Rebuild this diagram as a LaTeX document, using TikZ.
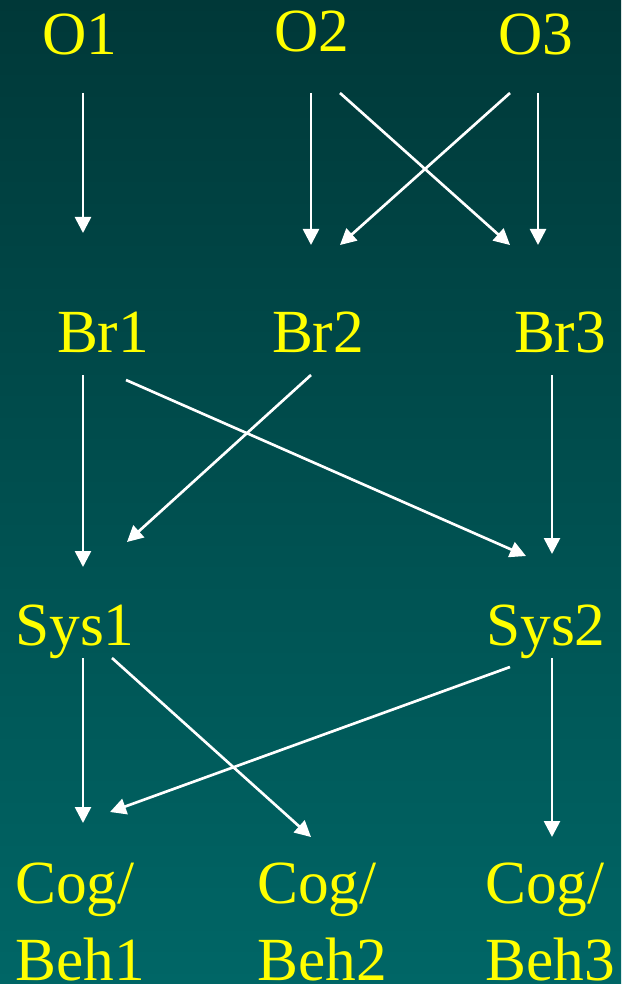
\documentclass[tikz,border=0pt]{standalone}
\usepackage{fontspec}
\setmainfont{Liberation Serif}
\usepackage{xcolor}
\usetikzlibrary{arrows.meta,calc}

\definecolor{bgtop}{RGB}{0,56,56}
\definecolor{bgbot}{RGB}{0,102,102}
\definecolor{lblyellow}{RGB}{255,255,0}

\begin{document}
\begin{tikzpicture}[x=0.75pt,y=0.75pt,yscale=-1,xscale=1,
  lbl/.style={text=lblyellow,inner sep=0pt,anchor=base,font=\fontsize{46}{57.75}\selectfont},
  twolbl/.style={lbl,anchor=base west,align=left},
  arr/.style={draw=white,line width=2pt,-{Triangle[length=12pt,width=12pt]}}]
%set diagram to 621 x 984
\useasboundingbox (0,0) rectangle (621,984);
\shade[top color=bgtop,bottom color=bgbot] (0,0) rectangle (621,984);

% Text Node
\node[lbl] (O1) at (80,55) {O1};
% Text Node
\node[lbl] (O2) at (312,52) {O2};
% Text Node
\node[lbl] (O3) at (536,55) {O3};
% Text Node
\node[lbl] (Br1) at (103,352) {Br1};
% Text Node
\node[lbl] (Br2) at (318,352) {Br2};
% Text Node
\node[lbl] (Br3) at (560,352) {Br3};
% Text Node
\node[lbl] (Sys1) at (75,645) {Sys1};
% Text Node
\node[lbl] (Sys2) at (546,645) {Sys2};
% Text Node
\node[twolbl] (Beh1) at (15,980) {Cog/\\Beh1};
% Text Node
\node[twolbl] (Beh2) at (257,980) {Cog/\\Beh2};
% Text Node
\node[twolbl] (Beh3) at (485,980) {Cog/\\Beh3};

%Straight Lines
\draw[arr] ($(O1.base)+(3,38)$) -- ($(Br1.base)+(-20,-119)$);
\draw[arr] ($(O2.base)+(-1,41)$) -- ($(Br2.base)+(-7,-107)$);
\draw[arr] ($(O2.base)+(28,41)$) -- ($(Br3.base)+(-50,-107)$);
\draw[arr] ($(O3.base)+(-26,38)$) -- ($(Br2.base)+(22,-107)$);
\draw[arr] ($(O3.base)+(2,38)$) -- ($(Br3.base)+(-22,-107)$);
%Straight Lines
\draw[arr] ($(Br1.base)+(-20,23)$) -- ($(Sys1.base)+(8,-78)$);
\draw[arr] ($(Br1.base)+(23,28)$) -- ($(Sys2.base)+(-20,-89)$);
\draw[arr] ($(Br2.base)+(-7,23)$) -- ($(Sys1.base)+(52,-103)$);
\draw[arr] ($(Br3.base)+(-8,23)$) -- ($(Sys2.base)+(6,-91)$);
%Straight Lines
\draw[arr] ($(Sys1.base)+(8,13)$) -- ($(Beh1.base west)+(68,-157)$);
\draw[arr] ($(Sys1.base)+(37,13)$) -- ($(Beh2.base west)+(54,-143)$);
\draw[arr] ($(Sys2.base)+(-36,22)$) -- ($(Beh1.base west)+(95,-168)$);
\draw[arr] ($(Sys2.base)+(6,13)$) -- ($(Beh3.base west)+(67,-143)$);

\end{tikzpicture}
\end{document}
